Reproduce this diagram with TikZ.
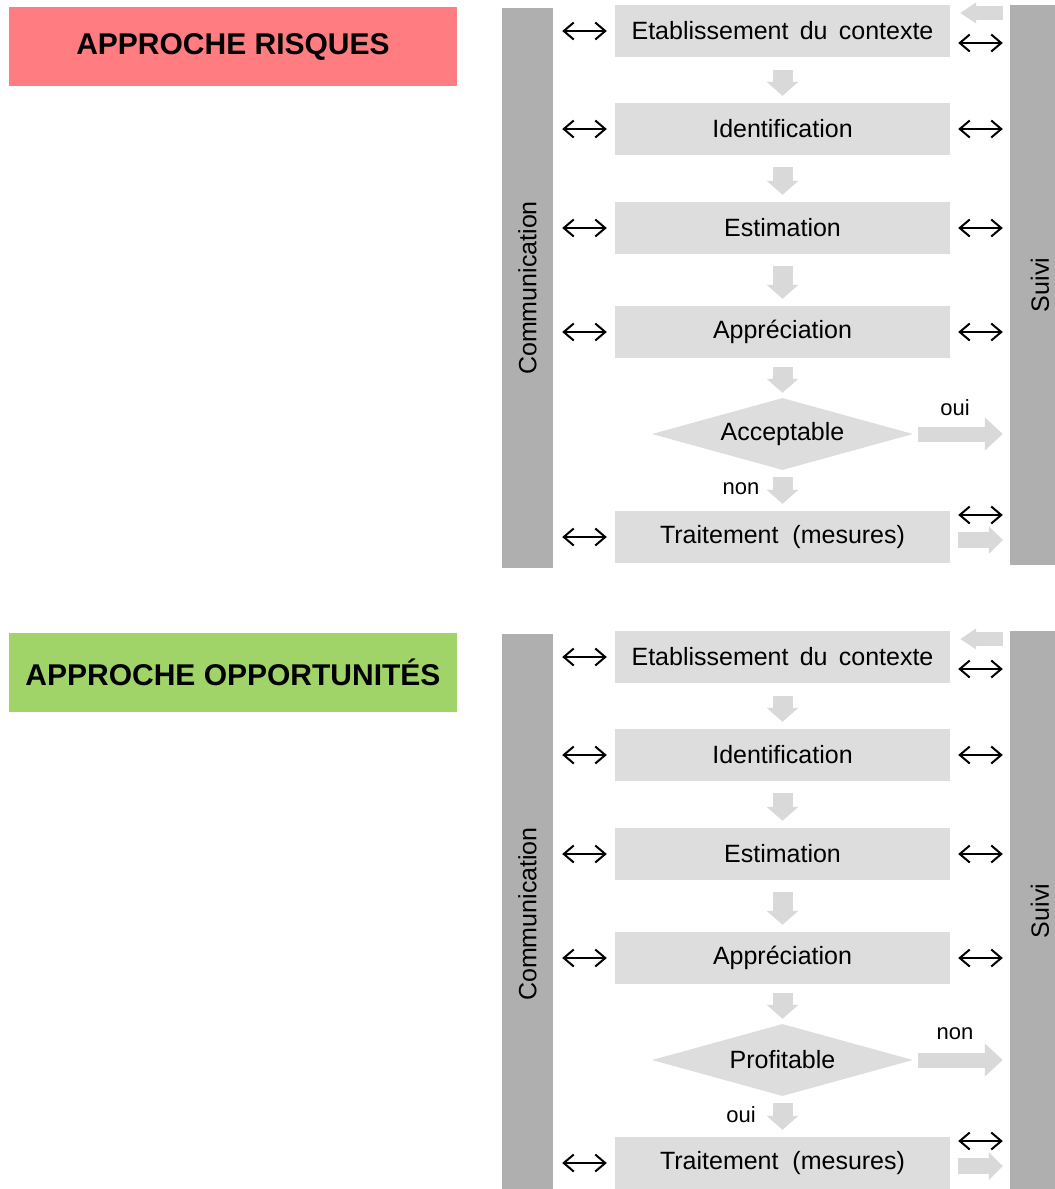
\documentclass[tikz,border=0pt]{standalone}
\usepackage{fontspec}
\setmainfont{Liberation Sans}
\usetikzlibrary{arrows.meta,shapes.geometric}
\definecolor{risquered}{HTML}{FF7C80}
\definecolor{opportgreen}{HTML}{A0D468}
\definecolor{bargray}{HTML}{AFAFAF}
\definecolor{boxgray}{HTML}{DDDDDD}
\definecolor{flowgray}{HTML}{D9D9D9}

\begin{document}
\begin{tikzpicture}[x=1pt,y=-1pt,
  titlebox/.style={minimum width=448pt,minimum height=79pt,inner sep=0pt,font=\fontsize{30}{33}\selectfont\bfseries},
  bar/.style={fill=bargray,inner sep=0pt},
  barlabel/.style={rotate=90,font=\fontsize{25}{28}\selectfont},
  stepbox/.style={fill=boxgray,minimum width=335pt,minimum height=52pt,inner sep=0pt,font=\fontsize{25}{28}\selectfont},
  decision/.style={diamond,fill=boxgray,aspect=3.6,minimum width=261pt,minimum height=72pt,inner sep=0pt,font=\fontsize{25}{28}\selectfont},
  lbl/.style={font=\fontsize{22}{24}\selectfont},
  dbl/.style={{Straight Barb[length=10pt,width=17pt]}-{Straight Barb[length=10pt,width=17pt]},line width=2pt},
  flow/.style={draw=flowgray,line width=20pt,-{Triangle[width=31pt,length=14pt]}},
  side/.style={draw=flowgray,line width=15pt,-{Triangle[width=32pt,length=18pt]}},
  sideshort/.style={draw=flowgray,line width=16pt,-{Triangle[width=27pt,length=14pt]}},
  backflow/.style={draw=flowgray,line width=14pt,-{Triangle[width=20pt,length=16pt]}}]
\useasboundingbox (0,0) rectangle (1055,1189);
\clip (0,0) rectangle (1055,1189);

\foreach \i/\oy/\ttl/\tcol/\crit/\rlab/\dlab in {1/0/APPROCHE RISQUES/risquered/Acceptable/oui/non,
    2/626/APPROCHE OPPORTUNITÉS/opportgreen/Profitable/non/oui} {
  \begin{scope}[yshift=-\oy pt]
    \node[titlebox,fill=\tcol] (titre\i) at (233,46.5) {\ttl};
    % side bars
    \node[bar,minimum width=51pt,minimum height=560pt] (comm\i) at (527.5,288) {};
    \node[barlabel] at (comm\i) {Communication};
    \node[bar,minimum width=46pt,minimum height=560pt] (suivi\i) at (1033,285) {};
    \node[barlabel] at (1040,285) {Suivi};
    % steps
    \node[stepbox] (etab\i) at (782.5,31) {Etablissement\hspace{0.45em}du\hspace{0.45em}contexte};
    \node[stepbox] (ident\i) at (782.5,129) {Identification};
    \node[stepbox] (estim\i) at (782.5,228) {Estimation};
    \node[stepbox] (appr\i) at (782.5,332) {Appréciation};
    \node[decision] (dec\i) at (782.5,434) {\crit};
    \node[stepbox] (trait\i) at (782.5,537) {Traitement~~(mesures)};
    % flow
    \draw[flow] ([yshift=-13pt]etab\i.south) -- ([yshift=7pt]ident\i.north);
    \draw[flow] ([yshift=-12pt]ident\i.south) -- ([yshift=7pt]estim\i.north);
    \draw[flow] ([yshift=-12pt]estim\i.south) -- ([yshift=7pt]appr\i.north);
    \draw[flow] ([yshift=-9pt]appr\i.south) -- ([yshift=5pt]dec\i.north);
    \draw[flow] ([yshift=-7pt]dec\i.south) -- ([yshift=7pt]trait\i.north);
    \node[lbl] (dlab\i) at (741,489) {\dlab};
    \draw[side] ([xshift=5pt]dec\i.east) -- ([xshift=-7pt]suivi\i.west |- dec\i.east);
    \node[lbl] (rlab\i) at (955,408) {\rlab};
    % exchanges with the bars
    \foreach \n in {etab,ident,estim,appr,trait}
      \draw[dbl] ([xshift=9pt]comm\i.east |- \n\i.west) -- ([xshift=-8pt]\n\i.west);
    \foreach \n in {ident,estim,appr}
      \draw[dbl] ([xshift=8pt]\n\i.east) -- ([xshift=-7pt]suivi\i.west |- \n\i.east);
    \draw[dbl] ([xshift=8pt,yshift=-12pt]etab\i.east) -- ([xshift=-7pt,yshift=-12pt]suivi\i.west |- etab\i.east);
    \draw[backflow] ([xshift=-7pt,yshift=18pt]suivi\i.west |- etab\i.east) -- ([xshift=10pt,yshift=18pt]etab\i.east);
    \draw[dbl] ([xshift=8pt,yshift=22pt]trait\i.east) -- ([xshift=-7pt,yshift=22pt]suivi\i.west |- trait\i.east);
    \draw[sideshort] ([xshift=8pt,yshift=-3pt]trait\i.east) -- ([xshift=-7pt,yshift=-3pt]suivi\i.west |- trait\i.east);
  \end{scope}
}
\end{tikzpicture}
\end{document}
